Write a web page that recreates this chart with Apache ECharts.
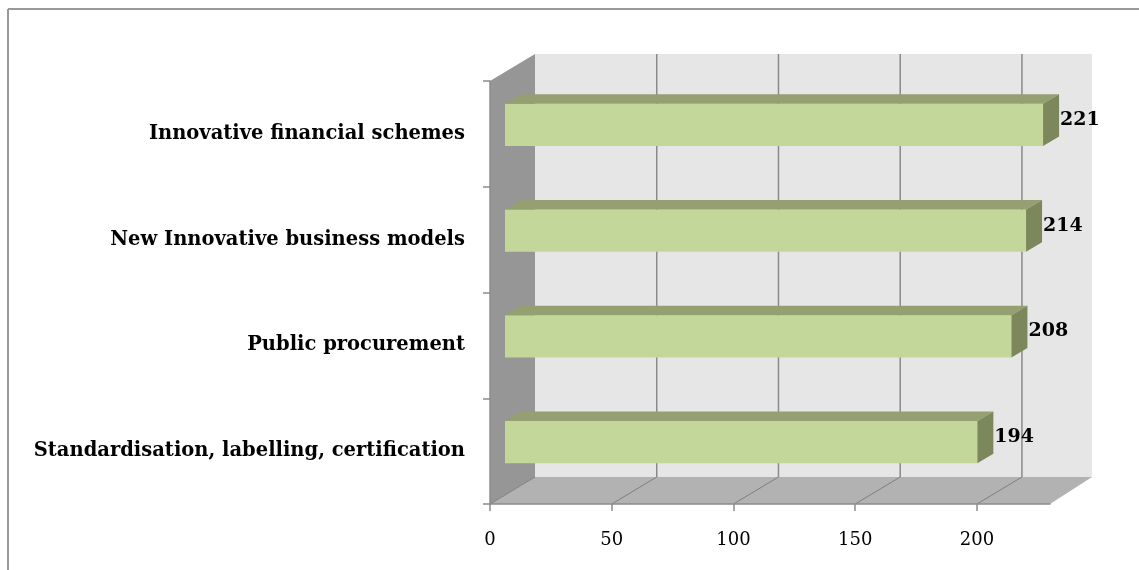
<!DOCTYPE html>
<html>
<head>
<meta charset="utf-8">
<script src="https://cdn.jsdelivr.net/npm/echarts@6/dist/echarts.min.js"></script>
<style>
  html, body { margin: 0; padding: 0; background: #fff; }
  #main { width: 1139px; height: 570px; }
</style>
</head>
<body>
<div id="main"></div>
<script>
var categories = [
  'Innovative financial schemes',
  'New Innovative business models',
  'Public procurement',
  'Standardisation, labelling, certification'
];
var values = [221, 214, 208, 194];
var xTicks = [0, 50, 100, 150, 200];
var xMax = 230;

// oblique "3d" look: depth goes right and up
var SLOPE = 0.6;
var WALL_DEPTH = 45;
var BAR_FRONT = 15;
var BAR_BACK = 31;
var SERIF = '"DejaVu Serif", serif';

var myChart = echarts.init(document.getElementById('main'));

function renderWalls(params, api) {
  var cs = params.coordSys;
  var x0 = cs.x, x1 = cs.x + cs.width;
  var yT = cs.y, yB = cs.y + cs.height;
  var dx = WALL_DEPTH, dy = WALL_DEPTH * SLOPE;
  var children = [
    { type: 'rect', shape: { x: x0 + dx, y: yT - dy, width: x1 - x0 - 3, height: yB - yT },
      style: { fill: '#e6e6e6' } },
    { type: 'polygon', shape: { points: [[x0, yT], [x0 + dx, yT - dy], [x0 + dx, yB - dy], [x0, yB]] },
      style: { fill: '#969696' } },
    { type: 'polygon', shape: { points: [[x0, yB], [x0 + dx, yB - dy], [x1 + dx - 3, yB - dy], [x1, yB]] },
      style: { fill: '#b2b2b2' } }
  ];
  xTicks.forEach(function (v) {
    var x = api.coord([v, 0])[0];
    if (v > 0) {
      children.push({ type: 'line', shape: { x1: x + dx, y1: yT - dy, x2: x + dx, y2: yB - dy },
        style: { stroke: '#8a8a8a', lineWidth: 1.5 } });
    }
    children.push({ type: 'line', shape: { x1: x, y1: yB, x2: x + dx, y2: yB - dy },
      style: { stroke: '#7f7f7f', lineWidth: 1 } });
  });
  return { type: 'group', children: children };
}

function renderBar(params, api) {
  var v = api.value(0), idx = api.value(1);
  var base = api.coord([0, idx]);
  var end = api.coord([v, idx]);
  var h = api.size([0, 1])[1] * 0.4;
  var xa = base[0] + BAR_FRONT, xb = end[0] + BAR_FRONT;
  var yc = base[1] - BAR_FRONT * SLOPE;
  var top = yc - h / 2, bot = yc + h / 2;
  var ddx = BAR_BACK - BAR_FRONT, ddy = ddx * SLOPE;
  return {
    type: 'group',
    children: [
      { type: 'rect', shape: { x: xa, y: top, width: xb - xa, height: h },
        style: { fill: '#c4d79b' } },
      { type: 'polygon', shape: { points: [[xa, top], [xa + ddx, top - ddy], [xb + ddx, top - ddy], [xb, top]] },
        style: { fill: '#94a071' } },
      { type: 'polygon', shape: { points: [[xb, top], [xb + ddx, top - ddy], [xb + ddx, bot - ddy], [xb, bot]] },
        style: { fill: '#7c885c' } },
      { type: 'text', x: xb + ddx + 1, y: yc - 5,
        style: { text: String(v), fill: '#000', font: 'bold 19px ' + SERIF,
          align: 'left', verticalAlign: 'middle' } }
    ]
  };
}

var option = {
  animation: false,
  backgroundColor: '#fff',
  graphic: [
    { type: 'line', shape: { x1: 8, y1: 9, x2: 1139, y2: 9 }, style: { stroke: '#999', lineWidth: 2 } },
    { type: 'line', shape: { x1: 8, y1: 9, x2: 8, y2: 570 }, style: { stroke: '#999', lineWidth: 2 } }
  ],
  grid: { left: 490, top: 81, width: 560, height: 423 },
  xAxis: {
    type: 'value',
    min: 0,
    max: xMax,
    interval: 50,
    z: 10,
    splitLine: { show: false },
    axisLine: { show: true, lineStyle: { color: '#8c8c8c', width: 1.5 } },
    axisTick: { show: true, length: 7, customValues: xTicks, lineStyle: { color: '#8c8c8c', width: 1.5 } },
    axisLabel: {
      customValues: xTicks,
      margin: 27,
      color: '#000',
      fontFamily: SERIF,
      fontSize: 18
    }
  },
  yAxis: {
    type: 'category',
    inverse: true,
    data: categories,
    z: 10,
    axisLine: { show: true, lineStyle: { color: '#8c8c8c', width: 1.5 } },
    axisTick: { show: true, length: 7, lineStyle: { color: '#8c8c8c', width: 1.5 } },
    axisLabel: {
      margin: 25,
      color: '#000',
      fontFamily: SERIF,
      fontWeight: 'bold',
      fontSize: 19.5
    }
  },
  series: [
    {
      name: 'walls',
      type: 'custom',
      z: 1,
      silent: true,
      renderItem: renderWalls,
      data: [[0, 0]]
    },
    {
      name: 'bars',
      type: 'custom',
      z: 2,
      renderItem: renderBar,
      encode: { x: 0, y: 1 },
      data: values.map(function (v, i) { return [v, i]; })
    }
  ]
};
myChart.setOption(option);
</script>
</body>
</html>
